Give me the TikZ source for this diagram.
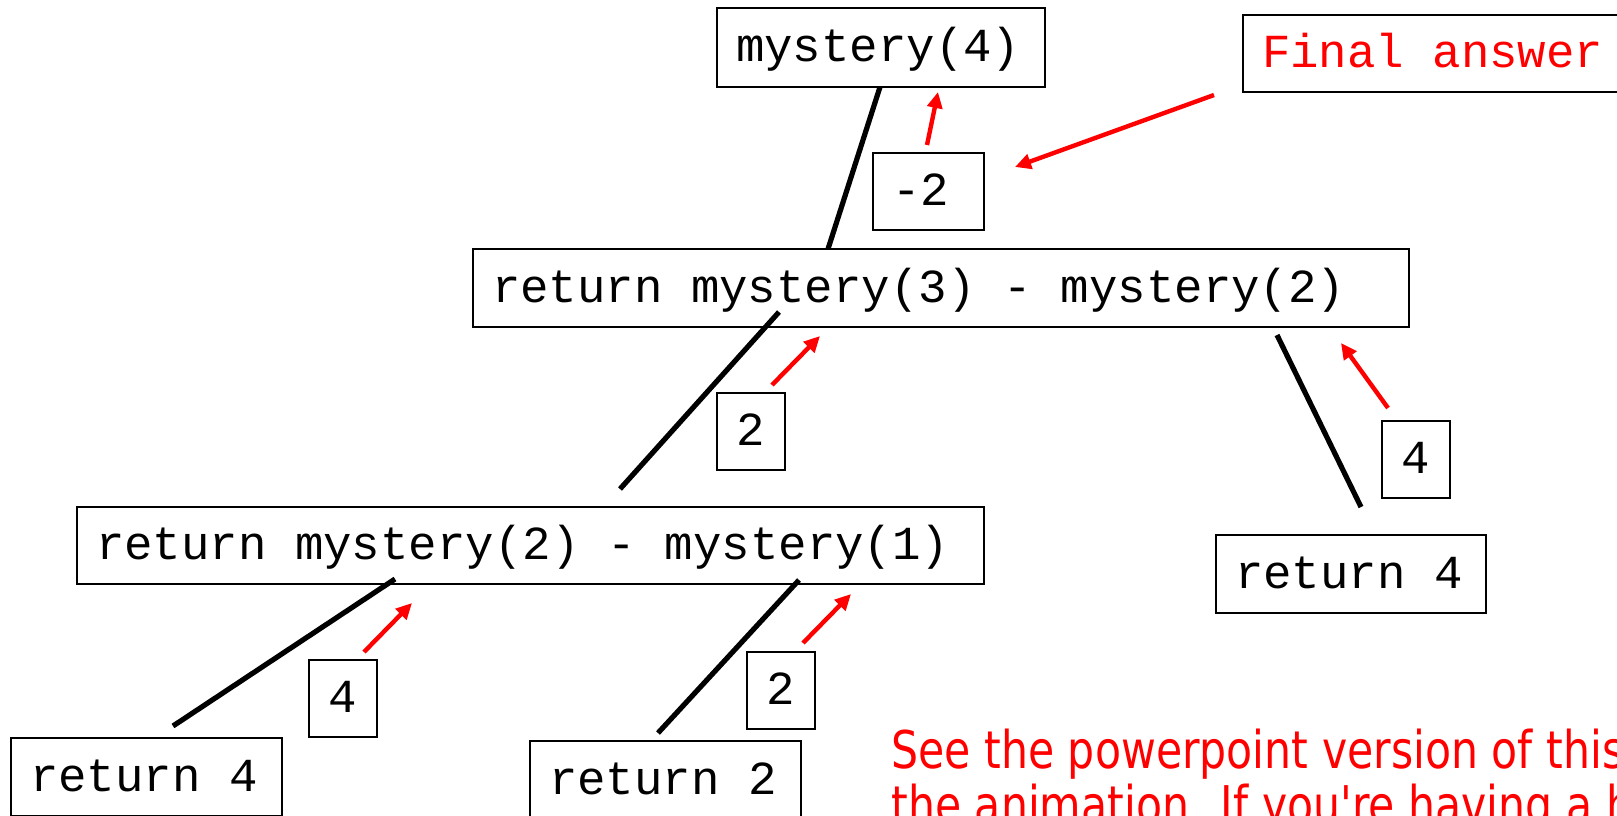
\documentclass[tikz,border=0pt]{standalone}
\usepackage{fontspec}
\newfontfamily\codefont{Liberation Mono}
\newfontfamily\notefont[FakeStretch=0.82]{DejaVu Sans}
\usetikzlibrary{arrows.meta}
\newcommand\msp{\hbox to 0.6em{}}
\tikzset{
  codebox/.style={draw=black, line width=1pt, inner xsep=9.5pt, inner ysep=0pt,
    text height=17pt, text depth=3pt, align=left, anchor=west,
    minimum height=39pt, font=\codefont\fontsize{23.7}{28}\selectfont},
  branch/.style={line width=2.6pt, black},
  ret/.style={line width=2.2pt, red, -{Triangle[length=8pt,width=7.5pt]}},
  note/.style={inner sep=0pt, anchor=base west, text=red,
    font=\notefont\fontsize{26}{27.5}\selectfont}
}
\begin{document}
\begin{tikzpicture}[x=0.5pt, y=-0.5pt]
\useasboundingbox (0,0) rectangle (1617,815);
\clip (0,0) rectangle (1617,815);

% boxes
\node[codebox, text width=145pt, minimum height=39.5pt] (m4) at (716,47.5) {mystery(4)};
\node[codebox, text width=201pt, minimum height=38.5pt, text=red] (fa) at (1242,53.5) {Final\msp answer};
\node[codebox, text width=36.5pt, minimum height=38.5pt] (neg2) at (872,191.5) {-2};
\node[codebox, text width=449pt] (r3) at (472,288) {return\msp mystery(3)\msp-\msp mystery(2)};
\node[codebox, text width=15pt, minimum height=38.5pt] (twoa) at (716,431.5) {2};
\node[codebox, text width=15pt, minimum height=38.5pt] (foura) at (1381,459.5) {4};
\node[codebox, text width=434.5pt, minimum height=38.5pt] (r2) at (76,545.5) {return\msp mystery(2)\msp-\msp mystery(1)};
\node[codebox, text width=116pt] (retfr) at (1215,574) {return\msp 4};
\node[codebox, text width=15pt, minimum height=38.5pt] (fourb) at (308,698) {4};
\node[codebox, text width=15pt, minimum height=38.5pt] (twob) at (746,690) {2};
\node[codebox, text width=116.5pt] (retfl) at (10,777) {return\msp 4};
\node[codebox, text width=116.5pt] (rettw) at (529,780) {return\msp 2};

% black branch lines
\coordinate (la1) at (880,87);   \coordinate (la2) at (828,249);
\coordinate (lb1) at (779,312);  \coordinate (lb2) at (620,489);
\coordinate (lc1) at (1277,335); \coordinate (lc2) at (1361,507);
\coordinate (ld1) at (395,579);  \coordinate (ld2) at (173,726);
\coordinate (le1) at (799,580);  \coordinate (le2) at (658,733);
\draw[branch] (la1) -- (la2);
\draw[branch] (lb1) -- (lb2);
\draw[branch] (lc1) -- (lc2);
\draw[branch] (ld1) -- (ld2);
\draw[branch] (le1) -- (le2);

% red return arrows
\coordinate (aa1) at (927,145);  \coordinate (aa2) at (938,92);
\coordinate (ab1) at (1214,95);  \coordinate (ab2) at (1015,167);
\coordinate (ac1) at (772,385);  \coordinate (ac2) at (820,336);
\coordinate (ad1) at (1388,408); \coordinate (ad2) at (1341,343);
\coordinate (ae1) at (364,652);  \coordinate (ae2) at (412,603);
\coordinate (af1) at (803,643);  \coordinate (af2) at (851,594);
\draw[ret] (aa1) -- (aa2);
\draw[ret] (ab1) -- (ab2);
\draw[ret] (ac1) -- (ac2);
\draw[ret] (ad1) -- (ad2);
\draw[ret] (ae1) -- (ae2);
\draw[ret] (af1) -- (af2);

% note text
\node[note] (notea) at (891,768) {See the powerpoint version of this};
\node[note] (noteb) at (891,823) {the animation. If you're having a h};
\end{tikzpicture}
\end{document}
